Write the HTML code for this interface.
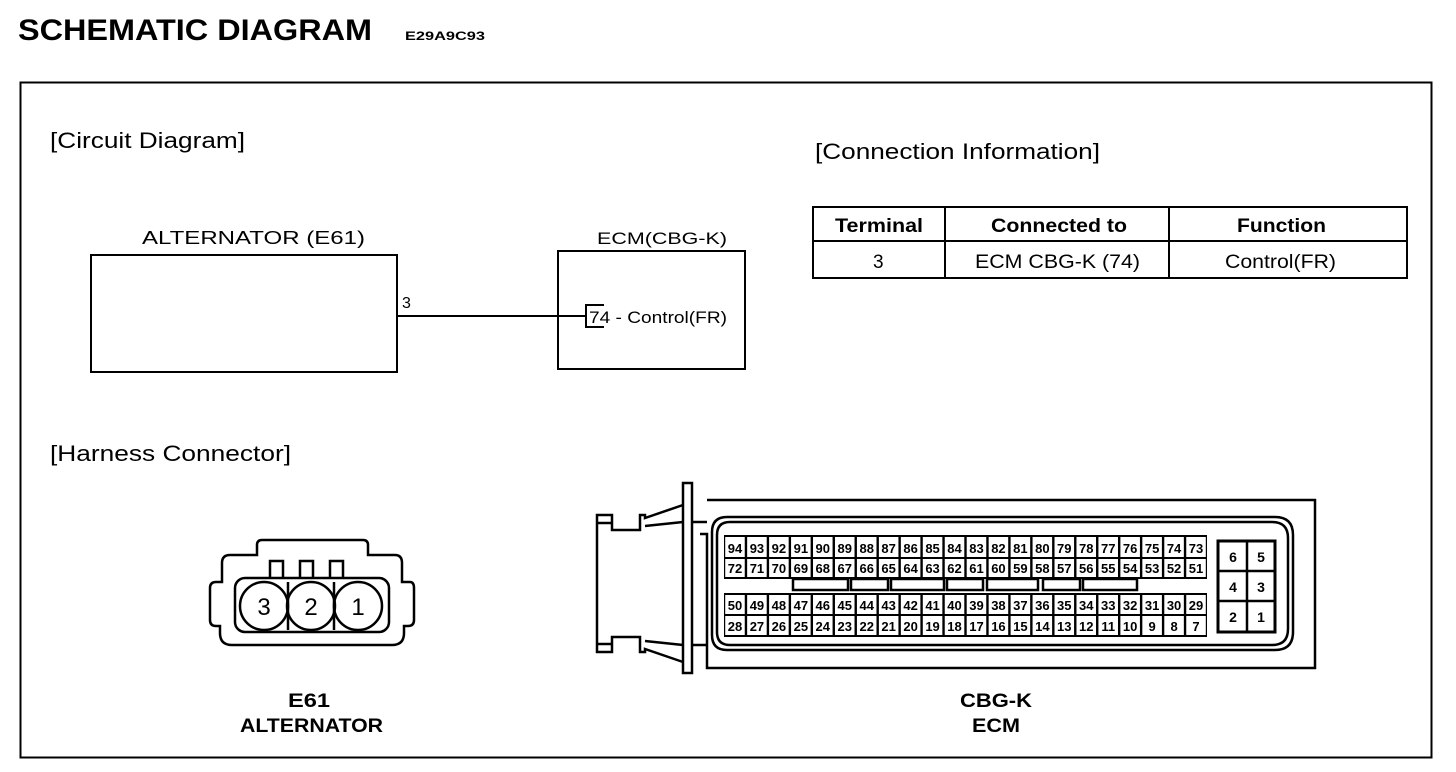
<!DOCTYPE html>
<html><head><style>
html,body{margin:0;padding:0;background:#fff;}
svg{display:block;font-family:"Liberation Sans",Arial,sans-serif;}
</style></head><body>
<svg width="1456" height="772" viewBox="0 0 1456 772" xmlns="http://www.w3.org/2000/svg">
<text x="18" y="40" font-size="30" font-weight="bold" textLength="354" lengthAdjust="spacingAndGlyphs">SCHEMATIC DIAGRAM</text>
<text x="405" y="40" font-size="12" font-weight="bold" textLength="80" lengthAdjust="spacingAndGlyphs">E29A9C93</text>
<rect x="20.5" y="82.5" width="1411" height="675" fill="none" stroke="#000" stroke-width="2"/>

<text x="50" y="148" font-size="22" textLength="195" lengthAdjust="spacingAndGlyphs">[Circuit Diagram]</text>
<text x="815" y="159" font-size="22" textLength="285" lengthAdjust="spacingAndGlyphs">[Connection Information]</text>
<text x="50" y="461" font-size="22" textLength="241" lengthAdjust="spacingAndGlyphs">[Harness Connector]</text>

<!-- circuit -->
<text x="142" y="244" font-size="18" textLength="223" lengthAdjust="spacingAndGlyphs">ALTERNATOR (E61)</text>
<rect x="91" y="255" width="306" height="117" fill="none" stroke="#000" stroke-width="2"/>
<text x="402" y="308" font-size="16">3</text>
<line x1="397" y1="316" x2="586" y2="316" stroke="#000" stroke-width="2"/>
<text x="597" y="244" font-size="17" textLength="130" lengthAdjust="spacingAndGlyphs">ECM(CBG-K)</text>
<rect x="558" y="251" width="187" height="118" fill="none" stroke="#000" stroke-width="2"/>
<path d="M604 305 H586 V327 H604" fill="none" stroke="#000" stroke-width="2"/>
<text x="589" y="323" font-size="17" textLength="138" lengthAdjust="spacingAndGlyphs">74 - Control(FR)</text>

<!-- table -->
<g stroke="#000" stroke-width="2" fill="none">
<rect x="813" y="207" width="594" height="71"/>
<line x1="813" y1="241" x2="1407" y2="241"/>
<line x1="945" y1="207" x2="945" y2="278"/>
<line x1="1169" y1="207" x2="1169" y2="278"/>
</g>
<g font-size="19">
<text x="835" y="232" font-weight="bold" textLength="88" lengthAdjust="spacingAndGlyphs">Terminal</text>
<text x="991" y="232" font-weight="bold" textLength="136" lengthAdjust="spacingAndGlyphs">Connected to</text>
<text x="1237" y="232" font-weight="bold" textLength="89" lengthAdjust="spacingAndGlyphs">Function</text>
<text x="873" y="268">3</text>
<text x="975" y="268" textLength="165" lengthAdjust="spacingAndGlyphs">ECM CBG-K (74)</text>
<text x="1225" y="268" textLength="111" lengthAdjust="spacingAndGlyphs">Control(FR)</text>
</g>

<!-- alternator connector -->
<g fill="none" stroke="#000" stroke-width="2.5">
<path d="M262 540 H363 Q368 540 368 545 V555 H395 Q402 555 402 563 V582 H410 Q414 582 414 588 V620 Q414 626 408 626 H404 V633 Q404 645 392 645 H232 Q220 645 220 633 V626 H216 Q210 626 210 620 V588 Q210 582 216 582 H222 V563 Q222 555 230 555 H257 V545 Q257 540 262 540 Z"/>
<path d="M270 578 V561 H283 V578 M300 578 V561 H313 V578 M330 578 V561 H343 V578"/>
<rect x="235" y="578" width="154" height="54" rx="10"/>
<circle cx="264" cy="606" r="24"/>
<circle cx="311" cy="606" r="24"/>
<circle cx="358" cy="606" r="24"/>
<line x1="288" y1="582" x2="288" y2="630"/>
<line x1="334" y1="582" x2="334" y2="630"/>
</g>
<g font-size="24" text-anchor="middle">
<text x="264" y="615">3</text><text x="311" y="615">2</text><text x="358" y="615">1</text>
</g>
<text x="288" y="707" font-size="19" font-weight="bold" textLength="42" lengthAdjust="spacingAndGlyphs">E61</text>
<text x="240" y="732" font-size="19" font-weight="bold" textLength="143" lengthAdjust="spacingAndGlyphs">ALTERNATOR</text>

<!-- ECM connector -->
<g fill="none" stroke="#000" stroke-width="2.5">
<rect x="683" y="483" width="9" height="190"/>
<path d="M707 500 H1315 V668 H707 V534 H700"/>
<path d="M727 517 H1275 Q1293 517 1293 535 V632 Q1293 650 1275 650 H727 Q712 650 712 635 V532 Q712 517 727 517 Z"/>
<path d="M730 522 H1272 Q1288 522 1288 538 V629 Q1288 645 1272 645 H730 Q717 645 717 632 V535 Q717 522 730 522 Z"/>
<path d="M683 505 L645 518 V515 H640 V530 H612 V515 H597 V652 H612 V637 H640 V652 H645 V649 L683 662"/>
<line x1="597" y1="523" x2="612" y2="523"/>
<line x1="597" y1="644" x2="612" y2="644"/>
<line x1="645" y1="526" x2="683" y2="522"/>
<line x1="645" y1="641" x2="683" y2="645"/>
<line x1="692" y1="522" x2="707" y2="522"/>
<line x1="692" y1="645" x2="707" y2="645"/>
</g>
<rect x="724" y="535" width="483" height="44" fill="#000"/>
<rect x="724" y="593" width="483" height="44" fill="#000"/>
<g fill="#fff" stroke="#000" stroke-width="2.5">
<rect x="793" y="579" width="55" height="11"/><rect x="851" y="579" width="37" height="11"/>
<rect x="891" y="579" width="53" height="11"/><rect x="947" y="579" width="36" height="11"/>
<rect x="987" y="579" width="51" height="11"/><rect x="1043" y="579" width="37" height="11"/>
<rect x="1083" y="579" width="54" height="11"/>
</g>
<g id="cells" font-size="13" font-weight="bold" text-anchor="middle"></g>
<rect x="1218" y="541" width="57" height="91" fill="#fff" stroke="#000" stroke-width="3"/>
<g stroke="#000" stroke-width="2.5"><line x1="1247" y1="541" x2="1247" y2="632"/><line x1="1218" y1="571" x2="1275" y2="571"/><line x1="1218" y1="601" x2="1275" y2="601"/></g>
<g font-size="14" font-weight="bold" text-anchor="middle">
<text x="1233" y="562">6</text><text x="1261" y="562">5</text>
<text x="1233" y="592">4</text><text x="1261" y="592">3</text>
<text x="1233" y="622">2</text><text x="1261" y="622">1</text>
</g>
<text x="960" y="707" font-size="19" font-weight="bold" textLength="72" lengthAdjust="spacingAndGlyphs">CBG-K</text>
<text x="972" y="732" font-size="19" font-weight="bold" textLength="48" lengthAdjust="spacingAndGlyphs">ECM</text>
<script>
(function(){
var g=document.getElementById('cells'),ns='http://www.w3.org/2000/svg';
var rows=[[94,537,557],[72,559,577],[50,595,614],[28,616,635]];
var w=483/22;
rows.forEach(function(r){
for(var i=0;i<22;i++){
var x=724+i*w+1.2;
var rc=document.createElementNS(ns,'rect');
rc.setAttribute('x',x);rc.setAttribute('y',r[1]);rc.setAttribute('width',w-2.4);rc.setAttribute('height',r[2]-r[1]);rc.setAttribute('fill','#fff');
g.appendChild(rc);
var t=document.createElementNS(ns,'text');
t.setAttribute('x',x+(w-2.4)/2);t.setAttribute('y',r[2]-4);t.textContent=r[0]-i;
g.appendChild(t);
}});
})();
</script>
</svg>
</body></html>
